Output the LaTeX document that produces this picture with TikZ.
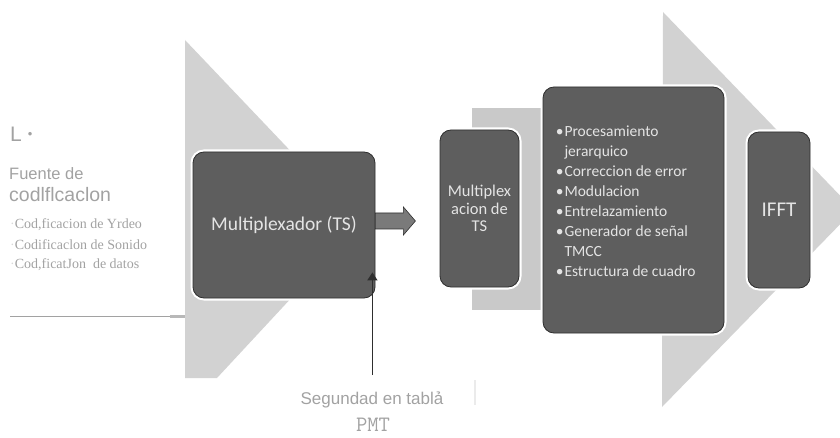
\documentclass[tikz,border=0pt]{standalone}
\usepackage{fontspec}
\setmainfont{Carlito}
\newfontfamily\arialf{Liberation Sans}
\newfontfamily\timesf{Liberation Serif}
\usetikzlibrary{arrows.meta,calc}
\definecolor{chevgray}{HTML}{D2D2D2}
\definecolor{bandgray}{HTML}{C9C9C9}
\definecolor{boxgray}{HTML}{5E5E5E}
\definecolor{boxline}{HTML}{2E2E2E}
\definecolor{boxtext}{HTML}{E4E4E4}
\definecolor{arrowgray}{HTML}{7A7A7A}
\definecolor{notegray}{HTML}{A2A2A2}
\tikzset{>=stealth}
\tikzset{
  darkbox/.style={rounded corners=11pt, fill=boxgray, draw=boxline, line width=0.8pt,
    preaction={draw=white, line width=5pt}, text=boxtext, inner sep=2pt, align=center},
  note/.style={text=notegray, anchor=west, inner sep=0pt},
}

\begin{document}
\begin{tikzpicture}[x=1pt,y=-1pt]
\useasboundingbox (0,0) rectangle (840,438);
				% light chevrons behind the boxes
				\fill[chevgray] (185,40) -- (360,224) -- (217,378) -- (185,378) -- cycle;
				\fill[chevgray] (663,12) -- (854,210) -- (662,407) -- cycle;
				\fill[bandgray] (472,108) rectangle (600,310);

				% boxes
				\node[darkbox, minimum width=182pt, minimum height=146pt,
					font=\fontsize{19.5}{23}\selectfont] (mux) at (284,225) {Multiplexador (TS)};
				\node[darkbox, minimum width=79pt, minimum height=157pt,
					font=\fontsize{16.5}{17.5}\selectfont] (mts) at (479.5,208.5) {Multiplex\\acion de\\TS};
				\node[darkbox, minimum width=181pt, minimum height=246pt] (proc) at (633.5,210) {};
				\node[anchor=north west, inner sep=0pt, text=boxtext, align=left,
					font=\fontsize{15.5}{20}\selectfont] (lista) at ([xshift=13pt,yshift=-39pt]proc.north west) {
					\textbullet\kern1pt Procesamiento\\
					\hphantom{\textbullet\kern1pt}jerarquico\\
					\textbullet\kern1pt Correccion de error\\
					\textbullet\kern1pt Modulacion\\
					\textbullet\kern1pt Entrelazamiento\\
					\textbullet\kern1pt Generador de señal\\
					\hphantom{\textbullet\kern1pt}TMCC\\
					\textbullet\kern1pt Estructura de cuadro};
				\node[darkbox, minimum width=62pt, minimum height=156pt,
					font=\fontsize{21}{24}\selectfont] (ifft) at (779,210) {IFFT};

				% block arrow out of the multiplexer
				\filldraw[fill=arrowgray, draw=boxline, line width=0.6pt]
					([yshift=12pt]mux.east) -- ++(28,0) -- ++(0,-6) -- ++(12,14)
					-- ++(-12,14) -- ++(0,-6) -- ([yshift=-4pt]mux.east) -- cycle;

				% arrow from the PMT note
				\coordinate (segtip) at ($(mux.south east)+(-3,-26)$);
				\coordinate (segtop) at (segtip |- 0,375);
				\draw[line width=1.5pt, draw=boxline, -{Triangle[length=8pt,width=10pt]}] (segtop) -- (segtip);

				% left notes
				\node[note, font=\arialf\fontsize{21}{21}\selectfont] (lmark) at (10,134)
					{L\hspace{6pt}\raisebox{3pt}{\fontsize{13}{13}\selectfont\textbullet}};
				\node[note, font=\arialf\fontsize{16.5}{16.5}\selectfont] (fuente) at (9,174) {Fuente de};
				\node[note, font=\arialf\fontsize{19.5}{19.5}\selectfont] (codif) at (9,195) {codlflcaclon};
				\node[note, font=\timesf\fontsize{14}{14}\selectfont] (cvideo) at (10,225) {{\color{black!15}·}Cod,ficacion de Yrdeo};
				\node[note, font=\timesf\fontsize{14}{14}\selectfont] (csonido) at (10,245) {{\color{black!15}·}Codificaclon de Sonido};
				\node[note, font=\timesf\fontsize{14}{14}\selectfont] (cdatos) at (10,265) {{\color{black!15}·}Cod,ficatJon\ \ de datos};

				\coordinate (ruleL) at (10,316);
				\coordinate (ruleR) at (183,316);
				\draw[draw=notegray, line width=0.9pt] (ruleL) -- (ruleR);
				\draw[draw=black!28, line width=3pt] (170,316) -- (185,316);

				% bottom note
				\node[note, anchor=center, font=\arialf\fontsize{17}{17}\selectfont] (segund) at (372,400) {Segundad en tablả};
				\node[note, anchor=center, font=\ttfamily\fontsize{22}{22}\selectfont] (pmt) at (373,425) {PMT};
				\draw[draw=black!8, line width=1.5pt] (475,380) -- (475,405);
\end{tikzpicture}
\end{document}
